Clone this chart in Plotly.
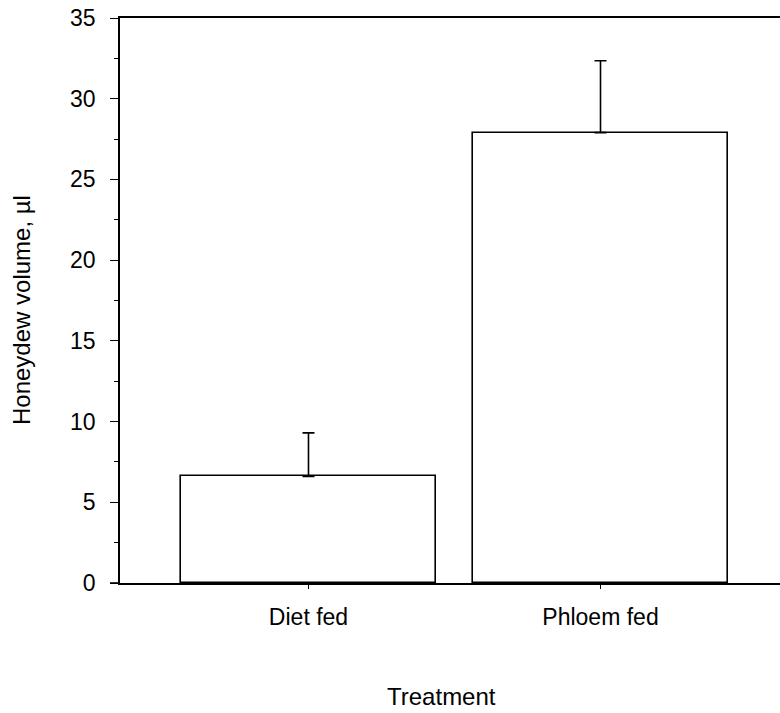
import plotly.graph_objects as go

categories = ["Diet fed", "Phloem fed"]
means = [6.6, 27.9]
errors_up = [2.7, 4.45]
y_ticks = [0, 5, 10, 15, 20, 25, 30, 35]

FONT = "Liberation Sans, Arial, sans-serif"

fig = go.Figure()
fig.add_trace(go.Bar(
    x=[0, 1], y=means, width=0.87,
    marker=dict(color="white", line=dict(color="black", width=1.6)),
    error_y=dict(type="data", array=errors_up, arrayminus=[0, 0], symmetric=False,
                 color="black", thickness=1.6, width=6),
    showlegend=False,
))

fig.update_layout(
    width=780, height=713,
    margin=dict(l=120, r=0, t=18, b=130),
    plot_bgcolor="white", paper_bgcolor="white",
    font=dict(family=FONT, size=23, color="black"),
    bargap=0,
    xaxis=dict(
        range=[-0.6455, 1.6147],
        tickmode="array", tickvals=[0, 1], ticktext=categories,
        showline=True, linecolor="black", linewidth=1.6, mirror=True,
        ticks="outside", ticklen=4, tickwidth=1.2, tickcolor="black",
        showgrid=False, zeroline=False,
        ticklabelstandoff=9,
        tickfont=dict(size=23),
    ),
    yaxis=dict(
        range=[0, 35],
        tickmode="array", tickvals=y_ticks,
        showline=True, linecolor="black", linewidth=1.6,
        ticks="outside", ticklen=8, tickwidth=1.4, tickcolor="black",
        minor=dict(dtick=2.5, ticks="outside", ticklen=4, tickwidth=1.2, tickcolor="black", showgrid=False),
        showgrid=False, zeroline=False,
        ticklabelstandoff=10,
        tickfont=dict(size=23),
    ),
    annotations=[
        dict(text="Treatment", xref="paper", yref="paper", x=(441 - 120) / 660, y=(583 - 696) / 565,
             showarrow=False, xanchor="center", yanchor="middle", font=dict(size=24)),
        dict(text="Honeydew volume, µl", xref="paper", yref="paper", x=(21 - 120) / 660, y=(583 - 310) / 565,
             showarrow=False, xanchor="center", yanchor="middle", textangle=-90, font=dict(size=24)),
    ],
    shapes=[
        dict(type="line", xref="paper", yref="paper", x0=-10 / 660, x1=0, y0=0, y1=0,
             line=dict(color="black", width=1.6)),
    ],
)

fig.write_html("out.html", config={"displayModeBar": False},
               post_script="document.body.style.margin='0';document.body.style.overflow='hidden';")
